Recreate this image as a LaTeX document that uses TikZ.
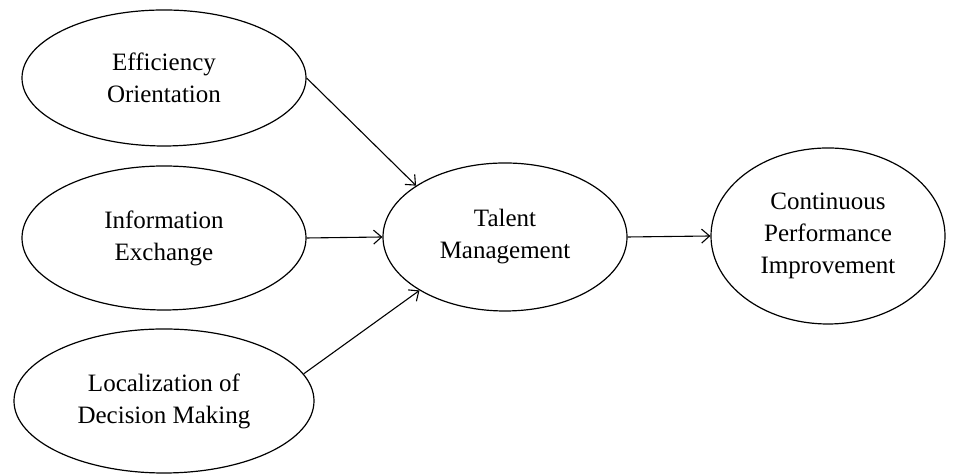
\documentclass[tikz,border=0pt]{standalone}
\usepackage{fontspec}
\setmainfont{Liberation Serif}
\usetikzlibrary{shapes.geometric,arrows.meta}
\tikzset{
  construct/.style={draw,ellipse,inner sep=0pt,align=center,line width=0.6pt,
    font=\fontsize{12.5}{16}\selectfont},
  link/.style={-{Straight Barb[length=4pt,width=7pt]},line width=0.55pt}
}
\begin{document}
\begin{tikzpicture}[x=1pt,y=1pt]
\pgfmathsetmacro{\colx}{82}
\useasboundingbox (0,0) rectangle (479,237);
\foreach \n/\y/\w/\h/\t in {eff/198/142/68/{Efficiency\\Orientation},
  info/118/142/72/{Information\\Exchange},
  loc/36.5/150/72/{Localization of\\Decision Making}}{
  \node[construct,minimum width=\w pt,minimum height=\h pt](\n) at (\colx,\y){\t};}
\node[construct,minimum width=122pt,minimum height=74pt](tal) at (252.5,118.5){Talent\\Management};
\node[construct,minimum width=117pt,minimum height=88pt](cpi) at (414,119){Continuous\\Performance\\Improvement};
\draw[link](eff.east)--(tal.150);
\draw[link](info.east)--(tal.west);
\draw[link](loc.11)--(tal.212);
\draw[link](tal.east)--(cpi.west);
\end{tikzpicture}
\end{document}
